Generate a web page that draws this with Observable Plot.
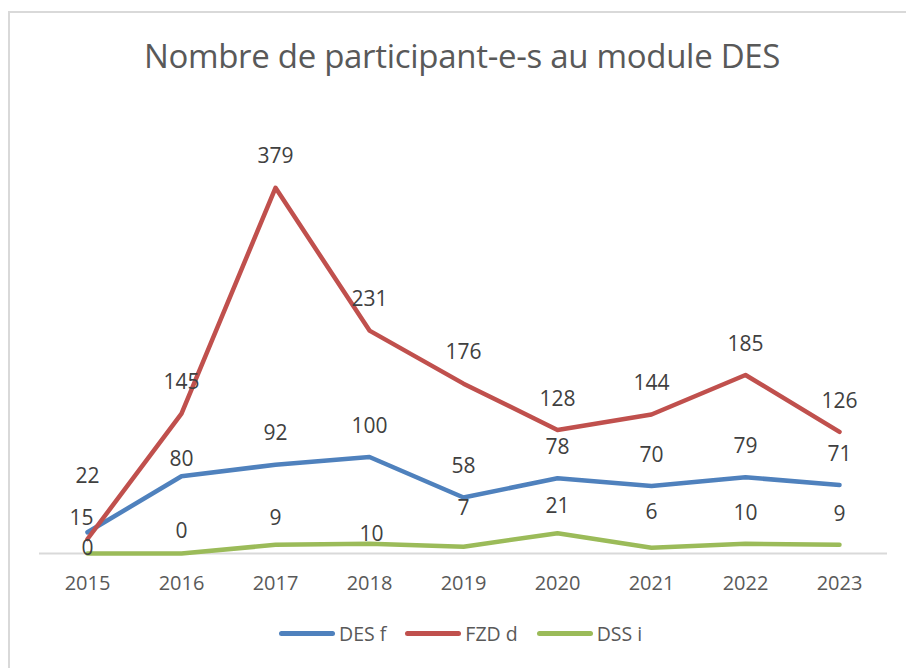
<!DOCTYPE html>
<html>
<head>
<meta charset="utf-8">
<script src="https://cdn.jsdelivr.net/npm/d3@7"></script>
<script src="https://cdn.jsdelivr.net/npm/@observablehq/plot@0.6"></script>
<style>
  html, body { margin: 0; padding: 0; background: #fff; }
  #chart { position: relative; width: 906px; height: 668px; overflow: hidden; font-family: "Open Sans", sans-serif; }
  #frame { position: absolute; left: 8px; top: 11px; width: 1000px; height: 800px; border: 2px solid #d9d9d9; box-sizing: border-box; }
  #title { position: absolute; left: 9px; top: 33px; width: 906px; text-align: center; font-size: 33px; line-height: 45px; color: #595959; font-weight: 400; letter-spacing: -0.3px; }
  #plot { position: absolute; left: 0; top: 90px; }
  #legend { position: absolute; left: 279px; top: 620px; display: flex; align-items: center; font-size: 19.5px; color: #595959; }
  .item { display: flex; align-items: center; margin-right: 19px; }
  .swatch { width: 56px; height: 5px; border-radius: 3px; margin-right: 4px; }
</style>
</head>
<body>
<div id="chart">
  <div id="frame"></div>
  <div id="title">Nombre de participant-e-s au module DES</div>
  <div id="plot"></div>
  <div id="legend"></div>
</div>
<script>
const years = ["2015","2016","2017","2018","2019","2020","2021","2022","2023"];
const seriesNames = ["DES f", "FZD d", "DSS i"];
const desF = [22, 80, 92, 100, 58, 78, 70, 79, 71];
const fzdD = [15, 145, 379, 231, 176, 128, 144, 185, 126];
const dssI = [0, 0, 9, 10, 7, 21, 6, 10, 9];
const colors = ["#4F81BD", "#C0504D", "#9BBB59"];

// label placement tweaks (pixels, vertical offset of each data label), default -31
const labelDy = {
  "DES f|2015": -56, "DES f|2016": -17,
  "FZD d|2015": -21,
  "DSS i|2015": -5, "DSS i|2016": -22, "DSS i|2017": -27, "DSS i|2018": -10,
  "DSS i|2019": -38, "DSS i|2020": -27, "DSS i|2021": -35
};
const labelDx = {"FZD d|2015": -6, "DSS i|2018": 2};

const valuesBySeries = [desF, fzdD, dssI];
const data = [];
seriesNames.forEach((s, si) => {
  years.forEach((y, i) => data.push({series: s, year: y, value: valuesBySeries[si][i]}));
});

const chart = Plot.plot({
  width: 906,
  height: 520,
  marginLeft: 39,
  marginRight: 19,
  marginTop: 77,
  marginBottom: 57,
  style: {fontFamily: "Open Sans, sans-serif", background: "transparent"},
  x: {type: "point", domain: years, padding: 0.5, label: null},
  y: {domain: [0, 400], axis: null},
  color: {domain: seriesNames, range: colors},
  marks: [
    Plot.ruleY([0], {stroke: "#d9d9d9", strokeWidth: 2}),
    Plot.axisX({tickSize: 0, tickPadding: 22, fontSize: 20, color: "#595959", label: null}),
    Plot.line(data, {x: "year", y: "value", z: "series", stroke: "series", strokeWidth: 4.5, strokeLinecap: "round", strokeLinejoin: "round"}),
    ...data.map(d => Plot.text([d], {
      x: "year", y: "value", text: "value",
      dy: labelDy[d.series + "|" + d.year] ?? -31,
      dx: labelDx[d.series + "|" + d.year] ?? 0,
      fontSize: 21, fill: "#404040"
    }))
  ]
});
document.getElementById("plot").appendChild(chart);

const legend = document.getElementById("legend");
seriesNames.forEach((s, i) => {
  const item = document.createElement("div");
  item.className = "item";
  item.innerHTML = `<div class="swatch" style="background:${colors[i]}"></div><span>${s}</span>`;
  legend.appendChild(item);
});
</script>
</body>
</html>
